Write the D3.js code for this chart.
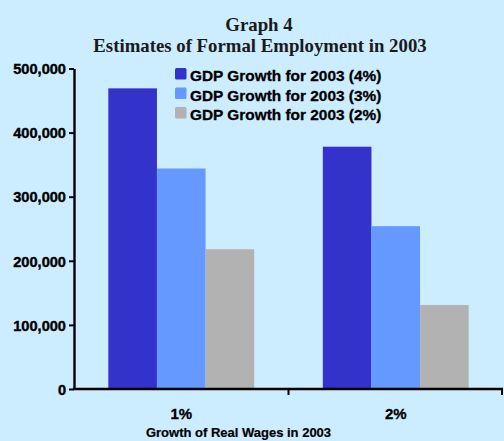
<!DOCTYPE html>
<html>
<head>
<meta charset="utf-8">
<script src="https://cdn.jsdelivr.net/npm/d3@7"></script>
<style>
  html, body { margin: 0; padding: 0; background: #ccecff; }
  svg { display: block; }
</style>
</head>
<body>
<svg id="chart" width="504" height="441"></svg>
<script>
// Wage growth scenarios on the x axis
const categories = ["1%", "2%"];
// One series per GDP growth assumption
const seriesNames = [
  "GDP Growth for 2003 (4%)",
  "GDP Growth for 2003 (3%)",
  "GDP Growth for 2003 (2%)"
];
const gdp4 = [469000, 378000];
const gdp3 = [344000, 254000];
const gdp2 = [218000, 131000];
const yTicks = [0, 100000, 200000, 300000, 400000, 500000];
const colors = ["#3333cc", "#6699ff", "#b2b2b2"];

const seriesValues = [gdp4, gdp3, gdp2];
const rows = categories.map((c, i) => ({
  cat: c,
  vals: seriesNames.map((s, j) => ({ key: s, value: seriesValues[j][i], color: colors[j] }))
}));

const svg = d3.select("#chart");
const plotLeft = 74, plotRight = 503, plotTop = 68.5, plotBottom = 389;
const sans = "'Liberation Sans', Arial, sans-serif";

const x = d3.scaleBand().domain(categories).range([plotLeft, plotRight]).paddingInner(0).paddingOuter(0);
const innerW = x.bandwidth() * 0.68;
const x1 = d3.scaleBand().domain(seriesNames).range([0, innerW]);
const y = d3.scaleLinear().domain([0, 500000]).range([plotBottom, plotTop]);

// Title
const title = svg.append("g")
  .attr("font-family", "'Liberation Serif', 'Times New Roman', serif")
  .attr("font-weight", "bold")
  .attr("font-size", 18.8)
  .attr("text-anchor", "middle")
  .attr("fill", "#1a1a1a");
title.append("text").attr("x", 259).attr("y", 31).text("Graph 4");
title.append("text").attr("x", 260).attr("y", 52).text("Estimates of Formal Employment in 2003");

// Bars
const groups = svg.append("g").selectAll("g").data(rows).join("g")
  .attr("transform", d => `translate(${x(d.cat) + (x.bandwidth() - innerW) / 2},0)`);
groups.selectAll("rect").data(d => d.vals).join("rect")
  .attr("x", d => x1(d.key))
  .attr("width", x1.bandwidth())
  .attr("y", d => y(d.value))
  .attr("height", d => y(0) - y(d.value))
  .attr("fill", d => d.color);

// Y axis
const yAxis = svg.append("g")
  .attr("transform", `translate(${plotLeft},0)`)
  .call(d3.axisLeft(y).tickValues(yTicks).tickFormat(d3.format(",")).tickSize(5).tickSizeOuter(0));
yAxis.select(".domain").attr("stroke", "#000").attr("stroke-width", 2.4);
yAxis.selectAll(".tick line").attr("stroke", "#000").attr("stroke-width", 2);
yAxis.selectAll(".tick text")
  .attr("font-family", sans)
  .attr("font-weight", "bold")
  .attr("font-size", 14.6)
  .attr("fill", "#000")
  .attr("stroke", "#000")
  .attr("stroke-width", 0.4)
  .attr("x", -8)
  .attr("dy", "0.36em");

// X axis: ticks at band boundaries
const xAxisG = svg.append("g").attr("transform", `translate(0,${plotBottom})`);
xAxisG.append("line")
  .attr("x1", plotLeft - 1.2).attr("x2", plotRight)
  .attr("stroke", "#000").attr("stroke-width", 2.4);
const boundaries = categories.map(c => x(c) + x.bandwidth());
xAxisG.selectAll("line.tk").data(boundaries).join("line")
  .attr("class", "tk")
  .attr("x1", d => Math.min(d, plotRight - 1)).attr("x2", d => Math.min(d, plotRight - 1))
  .attr("y1", 0).attr("y2", 6)
  .attr("stroke", "#000").attr("stroke-width", 2);
xAxisG.selectAll("text").data(categories).join("text")
  .attr("x", d => x(d) + x.bandwidth() / 2)
  .attr("y", 30)
  .attr("text-anchor", "middle")
  .attr("font-family", sans)
  .attr("font-weight", "bold")
  .attr("font-size", 15)
  .attr("stroke", "#000")
  .attr("stroke-width", 0.3)
  .text(d => d);

// X axis title
svg.append("text")
  .attr("x", 238.5).attr("y", 437)
  .attr("text-anchor", "middle")
  .attr("font-family", sans)
  .attr("font-weight", "bold")
  .attr("font-size", 13)
  .attr("stroke", "#000")
  .attr("stroke-width", 0.2)
  .text("Growth of Real Wages in 2003");

// Legend
const legend = svg.append("g").attr("transform", "translate(175,68)");
const li = legend.selectAll("g").data(seriesNames).join("g")
  .attr("transform", (d, i) => `translate(0,${i * 19.5})`);
li.append("rect").attr("width", 11.5).attr("height", 11.5).attr("rx", 1.5)
  .attr("fill", (d, i) => colors[i]);
li.append("text")
  .attr("x", 15).attr("y", 7.5).attr("dy", "0.36em")
  .attr("font-family", sans)
  .attr("font-weight", "bold")
  .attr("font-size", 15.4)
  .attr("stroke", "#000")
  .attr("stroke-width", 0.3)
  .text(d => d);
</script>
</body>
</html>
